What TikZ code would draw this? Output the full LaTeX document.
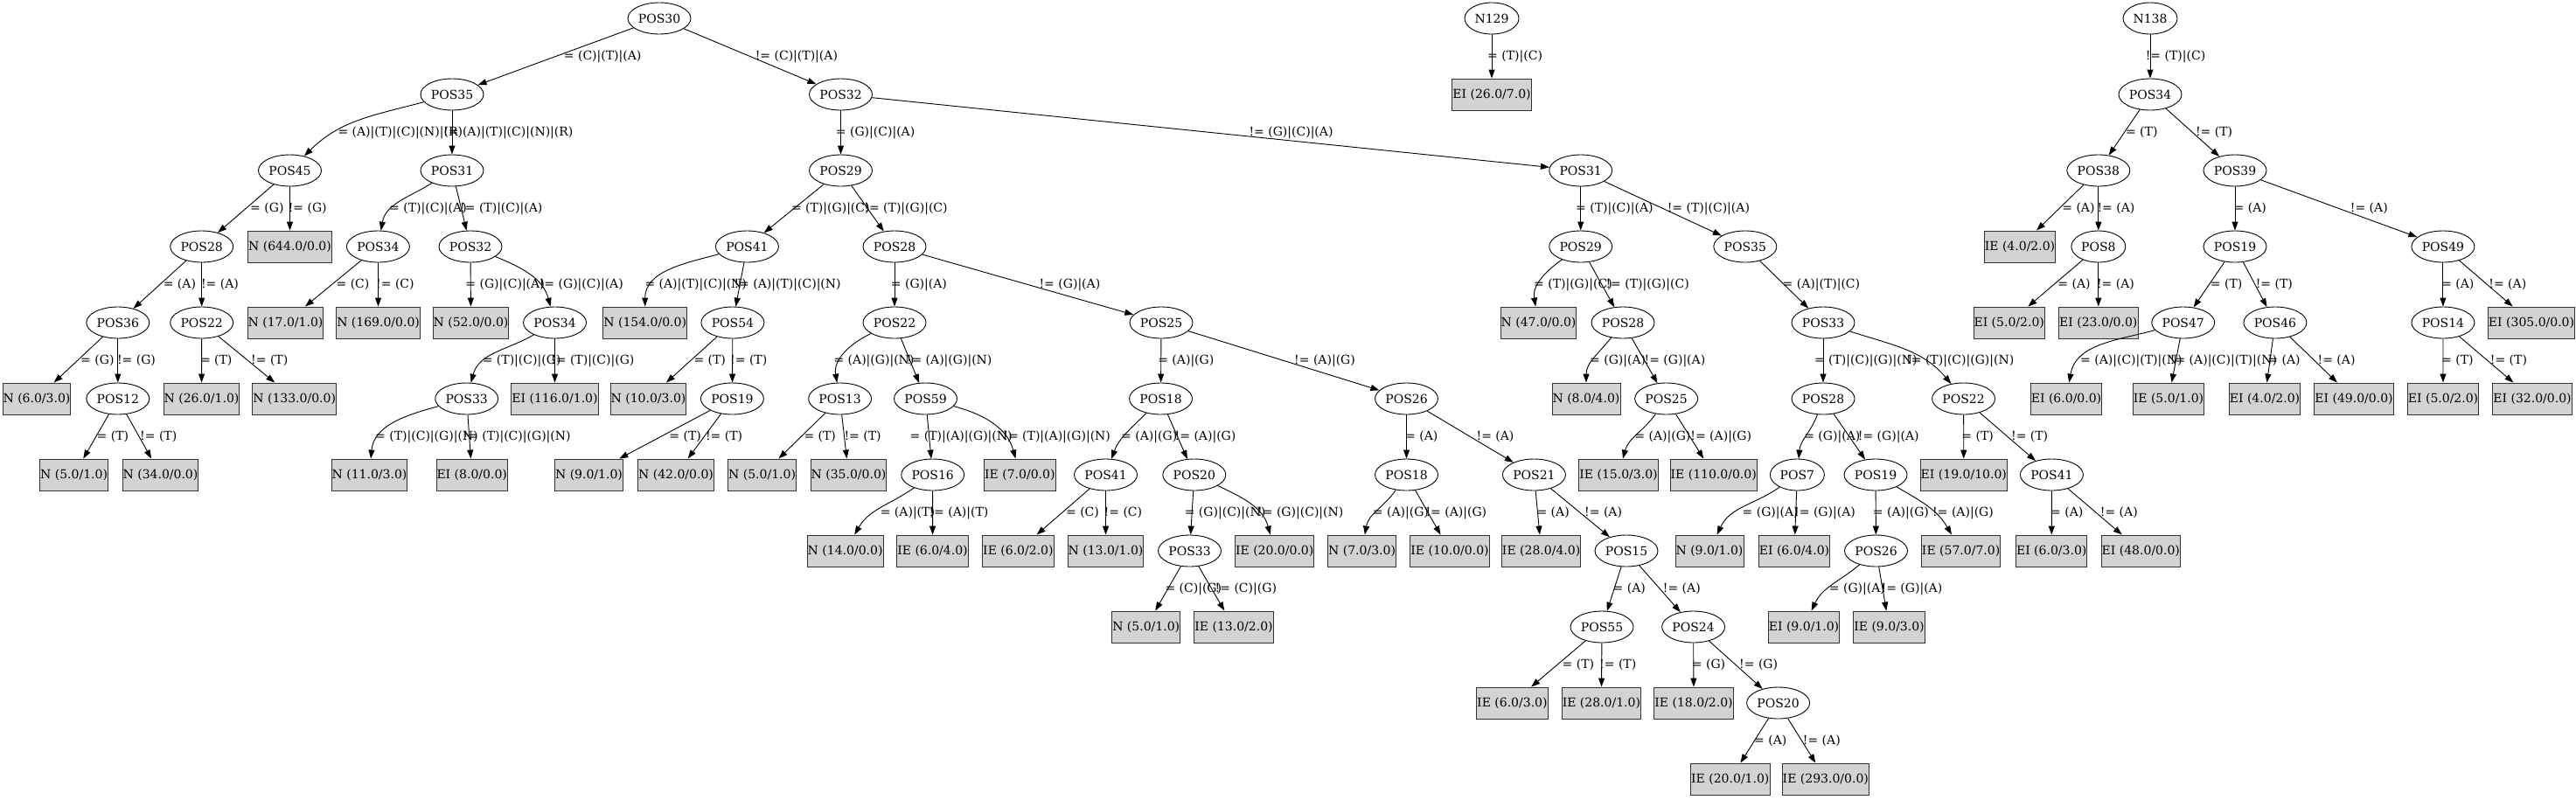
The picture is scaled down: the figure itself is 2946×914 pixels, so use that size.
\documentclass[tikz,border=0pt]{standalone}
\usepackage{fontspec}
\setmainfont{DejaVu Serif}
\usetikzlibrary{shapes.geometric,arrows.meta}
\definecolor{leafgray}{RGB}{211,211,211}
\tikzset{
  every node/.style={font=\fontsize{14pt}{16pt}\selectfont},
  dec/.style={ellipse, draw=black, line width=0.9pt, minimum width=72pt, minimum height=36pt, inner sep=0pt},
  decs/.style={dec, minimum width=62pt},
  leaf/.style={rectangle, draw=black!80, fill=leafgray, line width=0.9pt, minimum height=36pt, inner xsep=0.5pt, inner ysep=0pt},
  edgeline/.style={draw=black, line width=0.9pt, -{Triangle[length=10pt,width=7pt]}},
  lbl/.style={anchor=west, inner sep=0pt},
}
\newcommand{\myedge}[6]{%
  \draw[edgeline] (#2) to[#1] (#3);
  \node[lbl] (L-#2-#3) at (#5,-#6) {#4};
}
\begin{document}
\begin{tikzpicture}[x=1pt,y=1pt]
\useasboundingbox (0,0) rectangle (2946,-914);
% level 0
\node[dec] (p30) at (754,-21) {POS30};
\node[decs] (n129) at (1706,-21) {N129};
\node[decs] (n138) at (2459,-21) {N138};
% level 1
\node[dec] (p35) at (517,-108) {POS35};
\node[dec] (p32) at (961.5,-108) {POS32};
\node[leaf] (lei26) at (1706,-108) {EI (26.0/7.0)};
\node[dec] (r34) at (2459,-108) {POS34};
% level 2
\node[dec] (p45) at (331.5,-195) {POS45};
\node[dec] (p31a) at (517,-195) {POS31};
\node[dec] (p29) at (961.5,-195) {POS29};
\node[dec] (p31b) at (1807.7,-195) {POS31};
\node[dec] (p38) at (2399.8,-195) {POS38};
\node[dec] (p39) at (2556,-195) {POS39};
% level 3
\node[dec] (p28a) at (230.7,-282) {POS28};
\node[leaf] (l644) at (331.5,-282) {N (644.0/0.0)};
\node[dec] (p34a) at (432.4,-282) {POS34};
\node[dec] (p32a) at (538,-282) {POS32};
\node[dec] (p41a) at (854.4,-282) {POS41};
\node[dec] (p28b) at (1023,-282) {POS28};
\node[dec] (p29b) at (1807.7,-282) {POS29};
\node[dec] (p35b) at (1995.8,-282) {POS35};
\node[leaf] (lie4) at (2310,-282) {IE (4.0/2.0)};
\node[decs] (p8) at (2399.8,-282) {POS8};
\node[dec] (p19r) at (2556,-282) {POS19};
\node[dec] (p49) at (2793.9,-282) {POS49};
% level 4
\node[dec] (p36) at (134.8,-369) {POS36};
\node[dec] (p22a) at (230.7,-369) {POS22};
\node[leaf] (l17) at (326.5,-369) {N (17.0/1.0)};
\node[leaf] (l169) at (432.6,-369) {N (169.0/0.0)};
\node[leaf] (l52) at (538.5,-369) {N (52.0/0.0)};
\node[dec] (p34b) at (634.5,-369) {POS34};
\node[leaf] (l154) at (737.7,-369) {N (154.0/0.0)};
\node[dec] (p54) at (837.9,-369) {POS54};
\node[dec] (p22b) at (1023,-369) {POS22};
\node[dec] (p25a) at (1328,-369) {POS25};
\node[leaf] (l47) at (1759.5,-369) {N (47.0/0.0)};
\node[dec] (p28c) at (1856,-369) {POS28};
\node[dec] (p33c) at (2085,-369) {POS33};
\node[leaf] (lei5a) at (2297.7,-369) {EI (5.0/2.0)};
\node[leaf] (lei23) at (2399.8,-369) {EI (23.0/0.0)};
\node[dec] (p47) at (2496.7,-369) {POS47};
\node[dec] (p46) at (2601.9,-369) {POS46};
\node[dec] (p14) at (2793.9,-369) {POS14};
\node[leaf] (lei305) at (2895,-369) {EI (305.0/0.0)};
% level 5
\node[leaf] (l6a) at (42,-456) {N (6.0/3.0)};
\node[dec] (p12) at (134.8,-456) {POS12};
\node[leaf] (l26) at (230.5,-456) {N (26.0/1.0)};
\node[leaf] (l133) at (336.7,-456) {N (133.0/0.0)};
\node[dec] (p33a) at (533.7,-456) {POS33};
\node[leaf] (lei116) at (634.5,-456) {EI (116.0/1.0)};
\node[leaf] (l10) at (741.5,-456) {N (10.0/3.0)};
\node[dec] (p19a) at (837.4,-456) {POS19};
\node[dec] (p13) at (960.6,-456) {POS13};
\node[dec] (p59) at (1058.5,-456) {POS59};
\node[dec] (p18a) at (1327.5,-456) {POS18};
\node[dec] (p26a) at (1608.5,-456) {POS26};
\node[leaf] (l8) at (1814,-456) {N (8.0/4.0)};
\node[dec] (p25b) at (1905.6,-456) {POS25};
\node[dec] (p28d) at (2085,-456) {POS28};
\node[dec] (p22c) at (2245.6,-456) {POS22};
\node[leaf] (lei6a) at (2363,-456) {EI (6.0/0.0)};
\node[leaf] (lie5) at (2480,-456) {IE (5.0/1.0)};
\node[leaf] (lei4) at (2590,-456) {EI (4.0/2.0)};
\node[leaf] (lei49) at (2692,-456) {EI (49.0/0.0)};
\node[leaf] (lei5b) at (2794,-456) {EI (5.0/2.0)};
\node[leaf] (lei32) at (2896,-456) {EI (32.0/0.0)};
% level 6
\node[leaf] (l5a) at (84.6,-543) {N (5.0/1.0)};
\node[leaf] (l34) at (183.5,-543) {N (34.0/0.0)};
\node[leaf] (l11) at (422.5,-543) {N (11.0/3.0)};
\node[leaf] (lei8) at (539.7,-543) {EI (8.0/0.0)};
\node[leaf] (l9a) at (673.5,-543) {N (9.0/1.0)};
\node[leaf] (l42) at (773,-543) {N (42.0/0.0)};
\node[leaf] (l5b) at (871.6,-543) {N (5.0/1.0)};
\node[leaf] (l35) at (970.5,-543) {N (35.0/0.0)};
\node[dec] (p16) at (1066.7,-543) {POS16};
\node[leaf] (lie7) at (1166.3,-543) {IE (7.0/0.0)};
\node[dec] (p41b) at (1264.5,-543) {POS41};
\node[dec] (p20a) at (1365.8,-543) {POS20};
\node[dec] (p18b) at (1608.5,-543) {POS18};
\node[dec] (p21) at (1754.4,-543) {POS21};
\node[leaf] (lie15) at (1851,-543) {IE (15.0/3.0)};
\node[leaf] (lie110) at (1959.7,-543) {IE (110.0/0.0)};
\node[decs] (p7) at (2055.4,-543) {POS7};
\node[dec] (p19b) at (2145,-543) {POS19};
\node[leaf] (lei19) at (2245.8,-543) {EI (19.0/10.0)};
\node[dec] (p41c) at (2346.4,-543) {POS41};
% level 7
\node[leaf] (l14) at (966.6,-630) {N (14.0/0.0)};
\node[leaf] (lie6a) at (1066.5,-630) {IE (6.0/4.0)};
\node[leaf] (lie6b) at (1164.4,-630) {IE (6.0/2.0)};
\node[leaf] (l13) at (1264.5,-630) {N (13.0/1.0)};
\node[dec] (p33b) at (1360.5,-630) {POS33};
\node[leaf] (lie20a) at (1457.7,-630) {IE (20.0/0.0)};
\node[leaf] (l7) at (1557.6,-630) {N (7.0/3.0)};
\node[leaf] (lie10) at (1658,-630) {IE (10.0/0.0)};
\node[leaf] (lie28a) at (1762.6,-630) {IE (28.0/4.0)};
\node[dec] (p15) at (1860,-630) {POS15};
\node[leaf] (l9b) at (1955,-630) {N (9.0/1.0)};
\node[leaf] (lei6b) at (2052,-630) {EI (6.0/4.0)};
\node[dec] (p26b) at (2145.5,-630) {POS26};
\node[leaf] (lie57) at (2242.6,-630) {IE (57.0/7.0)};
\node[leaf] (lei6c) at (2346.2,-630) {EI (6.0/3.0)};
\node[leaf] (lei48) at (2448.3,-630) {EI (48.0/0.0)};
% level 8
\node[leaf] (l5c) at (1310.7,-717) {N (5.0/1.0)};
\node[leaf] (lie13) at (1411,-717) {IE (13.0/2.0)};
\node[dec] (p55) at (1832,-717) {POS55};
\node[dec] (p24) at (1936.6,-717) {POS24};
\node[leaf] (lei9) at (2063,-717) {EI (9.0/1.0)};
\node[leaf] (lie9) at (2160.5,-717) {IE (9.0/3.0)};
% level 9
\node[leaf] (lie6c) at (1729.4,-804) {IE (6.0/3.0)};
\node[leaf] (lie28b) at (1831.4,-804) {IE (28.0/1.0)};
\node[leaf] (lie18) at (1937,-804) {IE (18.0/2.0)};
\node[dec] (p20b) at (2033.6,-804) {POS20};
% level 10
\node[leaf] (lie20b) at (1978.8,-891) {IE (20.0/1.0)};
\node[leaf] (lie293) at (2087.8,-891) {IE (293.0/0.0)};

% ---- edges 0 -> 1
\myedge{}{p30}{p35}{= (C)|(T)|(A)}{644.7}{64.5}
\myedge{}{p30}{p32}{!= (C)|(T)|(A)}{863.6}{64.5}
\myedge{}{n129}{lei26}{= (T)|(C)}{1701}{64.5}
\myedge{}{n138}{r34}{!= (T)|(C)}{2453.6}{64.5}
% ---- 1 -> 2
\myedge{out=195,in=45}{p35}{p45}{= (A)|(T)|(C)|(N)|(R)}{386.3}{151.5}
\myedge{}{p35}{p31a}{!= (A)|(T)|(C)|(N)|(R)}{507}{151.5}
\myedge{}{p32}{p29}{= (G)|(C)|(A)}{955.7}{151.5}
\myedge{}{p32}{p31b}{!= (G)|(C)|(A)}{1428.3}{151.5}
\myedge{}{r34}{p38}{= (T)}{2430.8}{151.5}
\myedge{}{r34}{p39}{!= (T)}{2510.8}{151.5}
% ---- 2 -> 3
\myedge{}{p45}{p28a}{= (G)}{286}{238.5}
\myedge{}{p45}{l644}{!= (G)}{329.6}{238.5}
\myedge{out=212,in=80}{p31a}{p34a}{= (T)|(C)|(A)}{445}{238.5}
\myedge{}{p31a}{p32a}{!= (T)|(C)|(A)}{526}{238.5}
\myedge{}{p29}{p41a}{= (T)|(G)|(C)}{904.8}{238.5}
\myedge{}{p29}{p28b}{!= (T)|(G)|(C)}{988.2}{238.5}
\myedge{}{p31b}{p29b}{= (T)|(C)|(A)}{1801.9}{238.5}
\myedge{}{p31b}{p35b}{!= (T)|(C)|(A)}{1906.6}{238.5}
\myedge{}{p38}{lie4}{= (A)}{2358.1}{238.5}
\myedge{}{p38}{p8}{!= (A)}{2398.3}{238.5}
\myedge{}{p39}{p19r}{= (A)}{2554.4}{238.5}
\myedge{}{p39}{p49}{!= (A)}{2687.7}{238.5}
% ---- 3 -> 4
\myedge{}{p28a}{p36}{= (A)}{186.6}{325.5}
\myedge{}{p28a}{p22a}{!= (A)}{229.8}{325.5}
\myedge{}{p34a}{l17}{= (C)}{384.4}{325.5}
\myedge{}{p34a}{l169}{!= (C)}{430}{325.5}
\myedge{}{p32a}{l52}{= (G)|(C)|(A)}{532.2}{325.5}
\myedge{out=338,in=105}{p32a}{p34b}{!= (G)|(C)|(A)}{616.6}{325.5}
\myedge{out=195,in=90}{p41a}{l154}{= (A)|(T)|(C)|(N)}{737.3}{325.5}
\myedge{}{p41a}{p54}{!= (A)|(T)|(C)|(N)}{839.4}{325.5}
\myedge{}{p28b}{p22b}{= (G)|(A)}{1018.7}{325.5}
\myedge{}{p28b}{p25a}{!= (G)|(A)}{1188.4}{325.5}
\myedge{out=215,in=100}{p29b}{l47}{= (T)|(G)|(C)}{1753.9}{325.5}
\myedge{}{p29b}{p28c}{!= (T)|(G)|(C)}{1836.3}{325.5}
\myedge{}{p35b}{p33c}{= (A)|(T)|(C)}{2038.4}{325.5}
\myedge{}{p8}{lei5a}{= (A)}{2353.2}{325.5}
\myedge{}{p8}{lei23}{!= (A)}{2397.8}{325.5}
\myedge{}{p19r}{p47}{= (T)}{2527.7}{325.5}
\myedge{}{p19r}{p46}{!= (T)}{2579.6}{325.5}
\myedge{}{p49}{p14}{= (A)}{2791.9}{325.5}
\myedge{}{p49}{lei305}{!= (A)}{2846.2}{325.5}
% ---- 4 -> 5
\myedge{}{p36}{l6a}{= (G)}{92}{412.5}
\myedge{}{p36}{p12}{!= (G)}{133.8}{412.5}
\myedge{}{p22a}{l26}{= (T)}{228.8}{412.5}
\myedge{}{p22a}{l133}{!= (T)}{287}{412.5}
\myedge{out=210,in=75}{p34b}{p33a}{= (T)|(C)|(G)}{551.6}{412.5}
\myedge{}{p34b}{lei116}{!= (T)|(C)|(G)}{630}{412.5}
\myedge{}{p54}{l10}{= (T)}{793.3}{412.5}
\myedge{}{p54}{p19a}{!= (T)}{835}{412.5}
\myedge{out=205,in=100}{p22b}{p13}{= (A)|(G)|(N)}{953.3}{412.5}
\myedge{}{p22b}{p59}{!= (A)|(G)|(N)}{1036.7}{412.5}
\myedge{}{p25a}{p18a}{= (A)|(G)}{1324.1}{412.5}
\myedge{}{p25a}{p26a}{!= (A)|(G)}{1480}{412.5}
\myedge{out=232,in=90}{p28c}{l8}{= (G)|(A)}{1817.9}{412.5}
\myedge{}{p28c}{p25b}{!= (G)|(A)}{1880.4}{412.5}
\myedge{}{p33c}{p28d}{= (T)|(C)|(G)|(N)}{2074.8}{412.5}
\myedge{out=342,in=130}{p33c}{p22c}{!= (T)|(C)|(G)|(N)}{2180}{412.5}
\myedge{out=195,in=80}{p47}{lei6a}{= (A)|(C)|(T)|(N)}{2378.9}{412.5}
\myedge{}{p47}{lie5}{!= (A)|(C)|(T)|(N)}{2481.7}{412.5}
\myedge{}{p46}{lei4}{= (A)}{2593.2}{412.5}
\myedge{}{p46}{lei49}{!= (A)}{2650.4}{412.5}
\myedge{}{p14}{lei5b}{= (T)}{2791.9}{412.5}
\myedge{}{p14}{lei32}{!= (T)}{2847.7}{412.5}
% ---- 5 -> 6
\myedge{}{p12}{l5a}{= (T)}{110.5}{499.5}
\myedge{}{p12}{l34}{!= (T)}{160}{499.5}
\myedge{out=195,in=85}{p33a}{l11}{= (T)|(C)|(G)|(N)}{429}{499.5}
\myedge{}{p33a}{lei8}{!= (T)|(C)|(G)|(N)}{529.3}{499.5}
\myedge{}{p19a}{l9a}{= (T)}{765.2}{499.5}
\myedge{}{p19a}{l42}{!= (T)}{806.9}{499.5}
\myedge{}{p13}{l5b}{= (T)}{919.3}{499.5}
\myedge{}{p13}{l35}{!= (T)}{965.4}{499.5}
\myedge{}{p59}{p16}{= (T)|(A)|(G)|(N)}{1040.5}{499.5}
\myedge{out=345,in=105}{p59}{lie7}{!= (T)|(A)|(G)|(N)}{1147.2}{499.5}
\myedge{out=225,in=70}{p18a}{p41b}{= (A)|(G)}{1282}{499.5}
\myedge{}{p18a}{p20a}{!= (A)|(G)}{1343.5}{499.5}
\myedge{}{p26a}{p18b}{= (A)}{1607}{499.5}
\myedge{}{p26a}{p21}{!= (A)}{1688.4}{499.5}
\myedge{out=235,in=75}{p25b}{lie15}{= (A)|(G)}{1869.2}{499.5}
\myedge{}{p25b}{lie110}{!= (A)|(G)}{1933.2}{499.5}
\myedge{out=250,in=85}{p28d}{p7}{= (G)|(A)}{2063.1}{499.5}
\myedge{}{p28d}{p19b}{!= (G)|(A)}{2124.7}{499.5}
\myedge{}{p22c}{lei19}{= (T)}{2243.2}{499.5}
\myedge{}{p22c}{p41c}{!= (T)}{2299.9}{499.5}
% ---- 6 -> 7
\myedge{out=215,in=60}{p16}{l14}{= (A)|(T)}{1006.6}{586.5}
\myedge{}{p16}{lie6a}{!= (A)|(T)}{1062.3}{586.5}
\myedge{}{p41b}{lie6b}{= (C)}{1218.9}{586.5}
\myedge{}{p41b}{l13}{!= (C)}{1262.5}{586.5}
\myedge{}{p20a}{p33b}{= (G)|(C)|(N)}{1354.6}{586.5}
\myedge{out=335,in=105}{p20a}{lie20a}{!= (G)|(C)|(N)}{1438}{586.5}
\myedge{out=235,in=80}{p18b}{l7}{= (A)|(G)}{1569.7}{586.5}
\myedge{}{p18b}{lie10}{!= (A)|(G)}{1630.3}{586.5}
\myedge{}{p21}{lie28a}{= (A)}{1757.3}{586.5}
\myedge{}{p21}{p15}{!= (A)}{1812}{586.5}
\myedge{out=215,in=65}{p7}{l9b}{= (G)|(A)}{1992.4}{586.5}
\myedge{}{p7}{lei6b}{!= (G)|(A)}{2052}{586.5}
\myedge{}{p19b}{p26b}{= (A)|(G)}{2141.7}{586.5}
\myedge{out=330,in=120}{p19b}{lie57}{!= (A)|(G)}{2210}{586.5}
\myedge{}{p41c}{lei6c}{= (A)}{2345}{586.5}
\myedge{}{p41c}{lei48}{!= (A)}{2401.7}{586.5}
% ---- 7 -> 8
\myedge{}{p33b}{l5c}{= (C)|(G)}{1332.3}{673.5}
\myedge{}{p33b}{lie13}{!= (C)|(G)}{1389.5}{673.5}
\myedge{}{p15}{p55}{= (A)}{1844.5}{673.5}
\myedge{}{p15}{p24}{!= (A)}{1901.7}{673.5}
\myedge{out=220,in=65}{p26b}{lei9}{= (G)|(A)}{2091.7}{673.5}
\myedge{}{p26b}{lie9}{!= (G)|(A)}{2151.4}{673.5}
% ---- 8 -> 9
\myedge{}{p55}{lie6c}{= (T)}{1786.4}{760.5}
\myedge{}{p55}{lie28b}{!= (T)}{1829}{760.5}
\myedge{}{p24}{lie18}{= (G)}{1934.7}{760.5}
\myedge{}{p24}{p20b}{!= (G)}{1989}{760.5}
% ---- 9 -> 10
\myedge{}{p20b}{lie20b}{= (A)}{2006}{847.5}
\myedge{}{p20b}{lie293}{!= (A)}{2061.7}{847.5}
\end{tikzpicture}
\end{document}
